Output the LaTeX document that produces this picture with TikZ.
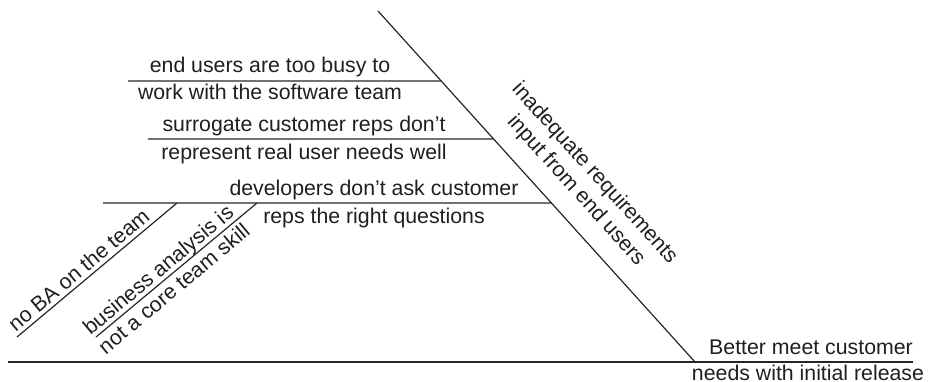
\documentclass[tikz,border=0pt]{standalone}
\usepackage{fontspec}
\setmainfont{Liberation Sans}
\usetikzlibrary{calc}
\tikzset{
  bone/.style={line width=1.2pt, draw=black!85},
  lbl/.style={font=\fontsize{21.3}{25}\selectfont, text=black!88, inner sep=0pt, anchor=base},
}
\begin{document}
\begin{tikzpicture}[x=1pt,y=1pt]
\useasboundingbox (0,0) rectangle (928,381);

% spine and the main rib leading to it
\coordinate (tail) at (8,19);
\coordinate (head) at (913,19);
\coordinate (ribtop) at (378,370);
\coordinate (ribfoot) at (695,19);
\draw[bone] (tail) -- (head);
\draw[bone] (ribtop) -- (ribfoot);

% horizontal causes attached to the rib
\coordinate (b1s) at (128,300);
\coordinate (b1e) at ($(ribtop)!0.1994!(ribfoot)$);
\coordinate (b2s) at (148,242);
\coordinate (b2e) at ($(ribtop)!0.3647!(ribfoot)$);
\coordinate (b3s) at (103,178);
\coordinate (b3e) at ($(ribtop)!0.5470!(ribfoot)$);
\draw[bone] (b1s) -- (b1e);
\draw[bone] (b2s) -- (b2e);
\draw[bone] (b3s) -- (b3e);

% sub-causes slanting into the lowest cause
\coordinate (s1a) at (17,44);
\coordinate (s1b) at (177,178);
\coordinate (s2a) at (96,44);
\coordinate (s2b) at (257,178);
\draw[bone] (s1a) -- (s1b);
\draw[bone] (s2a) -- (s2b);

% labels of the horizontal causes
\node[lbl] (t1a) at (270,308) {end users are too busy to};
\node[lbl] (t1b) at (270,281) {work with the software team};
\node[lbl] (t2a) at (304,250) {surrogate customer reps don’t};
\node[lbl] (t2b) at (304,222) {represent real user needs well};
\node[lbl] (t3a) at (374,186) {developers don’t ask customer};
\node[lbl] (t3b) at (374,158) {reps the right questions};

% effect
\node[lbl] (goal1) at (811,27) {Better meet customer};
\node[lbl] (goal2) at (808,1) {needs with initial release};

% rib label
\node[lbl, rotate=-47.92] (rib1) at ($(ribtop)!0.562!(ribfoot) + (42.08:46pt)$) {inadequate requirements};
\node[lbl, rotate=-47.92] (rib2) at ($(ribtop)!0.562!(ribfoot) + (42.08:21pt)$) {input from end users};

% sub-cause labels
\node[lbl, rotate=39.94] (sub1) at ($(s1a)!0.433!(s1b) + (129.94:4.5pt)$) {no BA on the team};
\node[lbl, rotate=39.94] (sub2a) at ($(s2a)!0.433!(s2b) + (129.94:4.5pt)$) {business analysis is};
\node[lbl, rotate=39.94] (sub2b) at ($(s2a)!0.433!(s2b) + (-50.06:20pt)$) {not a core team skill};
\end{tikzpicture}
\end{document}
